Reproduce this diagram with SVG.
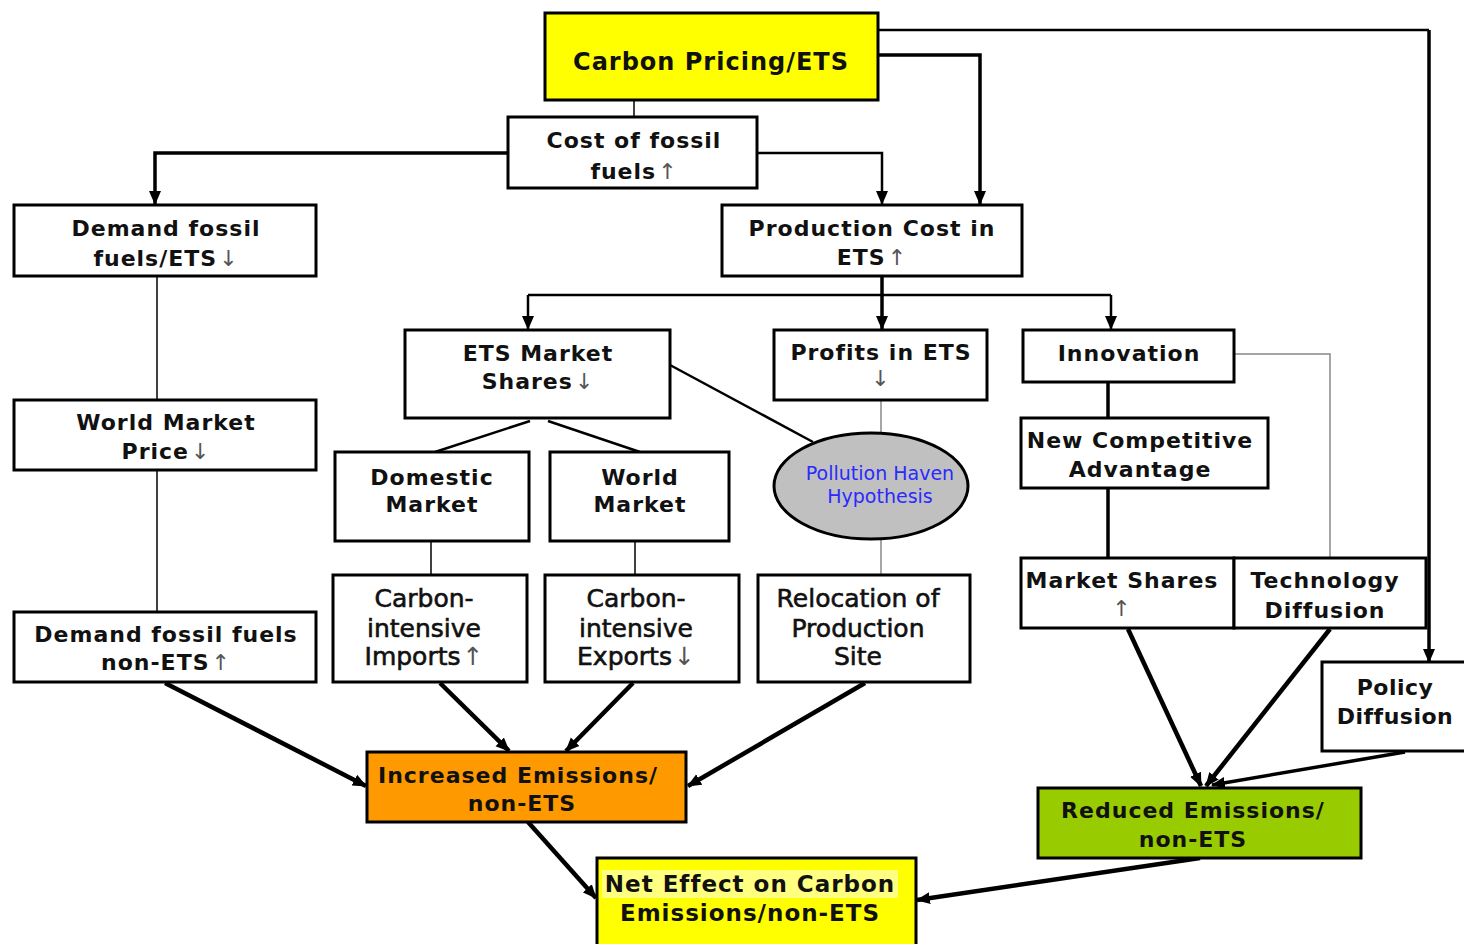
<svg xmlns="http://www.w3.org/2000/svg" width="1464" height="944" viewBox="0 0 1464 944">
<style>
.box{fill:#fff;stroke:#000;stroke-width:3}
.b{font-family:"DejaVu Sans",Verdana,sans-serif;font-weight:bold;font-size:22px;letter-spacing:1px;text-anchor:middle;fill:#111}
.r{font-family:"DejaVu Sans",Verdana,sans-serif;font-size:25px;text-anchor:middle;fill:#111;stroke:#111;stroke-width:0.6}
.ar{font-weight:normal;fill:#555;stroke:none}
.ph{font-family:"DejaVu Sans",Verdana,sans-serif;font-size:19px;text-anchor:middle;fill:#2a2aff}
.c{fill:none;stroke:#000}
.t1{stroke-width:1.5}
.t2{stroke-width:2.5}
.t3{stroke-width:3.5}
.t4{stroke-width:4.5}
.g{stroke:#888;stroke-width:1.5}
</style>
<defs>
<marker id="ah" markerUnits="userSpaceOnUse" markerWidth="14" markerHeight="14" viewBox="0 0 14 14" refX="13" refY="7" orient="auto">
<path d="M0,1 L14,7 L0,13 z" fill="#000"/>
</marker>
</defs>
<rect width="1464" height="944" fill="#fff"/>

<g id="connectors">
<path class="c t2" d="M878,30 H1429"/>
<path class="c t3" d="M1429,30 V662" marker-end="url(#ah)"/>
<path class="c t3" d="M878,55 H980 V204" marker-end="url(#ah)"/>
<path class="c t1" d="M634,100 V117"/>
<path class="c t3" d="M508,153 H155 V204" marker-end="url(#ah)"/>
<path class="c t2" d="M757,153 H882 V204" marker-end="url(#ah)"/>
<path class="c t1" d="M157,276 V400"/>
<path class="c t1" d="M157,470 V612"/>
<path class="c t3" d="M882,276 V329" marker-end="url(#ah)"/>
<path class="c t2" d="M528,295 H1111"/>
<path class="c t2" d="M528,295 V329" marker-end="url(#ah)"/>
<path class="c t2" d="M1111,295 V329" marker-end="url(#ah)"/>
<path class="c g" d="M1234,354 H1330 V558"/>
<path class="c t3" d="M1108,382 V418"/>
<path class="c t3" d="M1108,488 V558"/>
<path class="c t2" d="M530,421 L435,452"/>
<path class="c t2" d="M548,421 L640,452"/>
<path class="c t2" d="M670,365 L813,442"/>
<path class="c g" d="M881,400 V433"/>
<path class="c g" d="M881,539 V575"/>
<path class="c t1" d="M431,541 V575"/>
<path class="c t1" d="M635,541 V575"/>
<path class="c t4" d="M165,683 L366,786" marker-end="url(#ah)"/>
<path class="c t4" d="M440,683 L509,751" marker-end="url(#ah)"/>
<path class="c t4" d="M633,683 L566,751" marker-end="url(#ah)"/>
<path class="c t4" d="M865,683 L688,786" marker-end="url(#ah)"/>
<path class="c t4" d="M528,822 L596,898" marker-end="url(#ah)"/>
<path class="c t4" d="M1200,858 L917,900" marker-end="url(#ah)"/>
<path class="c t4" d="M1128,629 L1201,786" marker-end="url(#ah)"/>
<path class="c t4" d="M1330,629 L1206,786" marker-end="url(#ah)"/>
<path class="c t3" d="M1405,752 L1212,785" marker-end="url(#ah)"/>
</g>

<g id="carbon-pricing">
<rect class="box" x="545" y="13" width="333" height="87" style="fill:#ffff00"/>
<text class="b" x="711" y="70" style="font-size:24px">Carbon Pricing/ETS</text>
</g>
<g id="cost-fossil">
<rect class="box" x="508" y="117" width="249" height="71"/>
<text class="b" x="634" y="148">Cost of fossil</text>
<text class="b" x="634" y="179">fuels<tspan class="ar" dx="2">↑</tspan></text>
</g>
<g id="demand-ets">
<rect class="box" x="14" y="205" width="302" height="71"/>
<text class="b" x="166" y="236">Demand fossil</text>
<text class="b" x="166" y="266">fuels/ETS<tspan class="ar" dx="2">↓</tspan></text>
</g>
<g id="world-price">
<rect class="box" x="14" y="400" width="302" height="70"/>
<text class="b" x="166" y="430">World Market</text>
<text class="b" x="166" y="459">Price<tspan class="ar" dx="2">↓</tspan></text>
</g>
<g id="demand-non-ets">
<rect class="box" x="14" y="612" width="302" height="70"/>
<text class="b" x="166" y="642">Demand fossil fuels</text>
<text class="b" x="166" y="670">non-ETS<tspan class="ar" dx="2">↑</tspan></text>
</g>
<g id="production-cost">
<rect class="box" x="722" y="205" width="300" height="71"/>
<text class="b" x="872" y="236">Production Cost in</text>
<text class="b" x="872" y="265">ETS<tspan class="ar" dx="2">↑</tspan></text>
</g>
<g id="ets-market-shares">
<rect class="box" x="405" y="330" width="265" height="88"/>
<text class="b" x="538" y="361">ETS Market</text>
<text class="b" x="538" y="389">Shares<tspan class="ar" dx="2">↓</tspan></text>
</g>
<g id="profits">
<rect class="box" x="774" y="330" width="213" height="70"/>
<text class="b" x="881" y="360">Profits in ETS</text>
<text class="b" x="881" y="386"><tspan class="ar">↓</tspan></text>
</g>
<g id="innovation">
<rect class="box" x="1023" y="330" width="211" height="52"/>
<text class="b" x="1129" y="361">Innovation</text>
</g>
<g id="new-competitive">
<rect class="box" x="1021" y="418" width="247" height="70"/>
<text class="b" x="1140" y="448">New Competitive</text>
<text class="b" x="1140" y="477">Advantage</text>
</g>
<g id="domestic-market">
<rect class="box" x="335" y="452" width="194" height="89"/>
<text class="b" x="432" y="485">Domestic</text>
<text class="b" x="432" y="512">Market</text>
</g>
<g id="world-market">
<rect class="box" x="550" y="452" width="179" height="89"/>
<text class="b" x="640" y="485">World</text>
<text class="b" x="640" y="512">Market</text>
</g>
<g id="pollution-haven">
<ellipse cx="871" cy="486" rx="97" ry="53" fill="#c0c0c0" stroke="#000" stroke-width="3"/>
<text class="ph" x="880" y="480">Pollution Haven</text>
<text class="ph" x="880" y="503">Hypothesis</text>
</g>
<g id="imports">
<rect class="box" x="333" y="575" width="194" height="107"/>
<text class="r" x="424" y="607">Carbon-</text>
<text class="r" x="424" y="637">intensive</text>
<text class="r" x="424" y="665">Imports<tspan class="ar" dx="2">↑</tspan></text>
</g>
<g id="exports">
<rect class="box" x="545" y="575" width="194" height="107"/>
<text class="r" x="636" y="607">Carbon-</text>
<text class="r" x="636" y="637">intensive</text>
<text class="r" x="636" y="665">Exports<tspan class="ar" dx="2">↓</tspan></text>
</g>
<g id="relocation">
<rect class="box" x="758" y="575" width="212" height="107"/>
<text class="r" x="858" y="607">Relocation of</text>
<text class="r" x="858" y="637">Production</text>
<text class="r" x="858" y="665">Site</text>
</g>
<g id="market-shares">
<rect class="box" x="1021" y="558" width="213" height="70"/>
<text class="b" x="1122" y="588">Market Shares</text>
<text class="b" x="1122" y="616"><tspan class="ar">↑</tspan></text>
</g>
<g id="technology-diffusion">
<rect class="box" x="1234" y="558" width="192" height="70"/>
<text class="b" x="1325" y="588">Technology</text>
<text class="b" x="1325" y="618">Diffusion</text>
</g>
<g id="policy-diffusion">
<rect class="box" x="1322" y="662" width="144" height="89"/>
<text class="b" x="1395" y="695" style="letter-spacing:0.5px">Policy</text>
<text class="b" x="1395" y="724" style="letter-spacing:0.5px">Diffusion</text>
</g>
<g id="increased-emissions">
<rect class="box" x="367" y="752" width="319" height="70" style="fill:#ff9900"/>
<text class="b" x="518" y="783">Increased Emissions/</text>
<text class="b" x="522" y="811">non-ETS</text>
</g>
<g id="reduced-emissions">
<rect class="box" x="1038" y="788" width="323" height="70" style="fill:#99cc00"/>
<text class="b" x="1193" y="818">Reduced Emissions/</text>
<text class="b" x="1193" y="847">non-ETS</text>
</g>
<g id="net-effect">
<rect class="box" x="597" y="858" width="319" height="90" style="fill:#ffff00"/>
<rect x="602" y="870" width="296" height="28" fill="#ffff80"/>
<text class="b" x="750" y="892" style="font-size:23px">Net Effect on Carbon</text>
<text class="b" x="750" y="921" style="font-size:23px">Emissions/non-ETS</text>
</g>
</svg>
